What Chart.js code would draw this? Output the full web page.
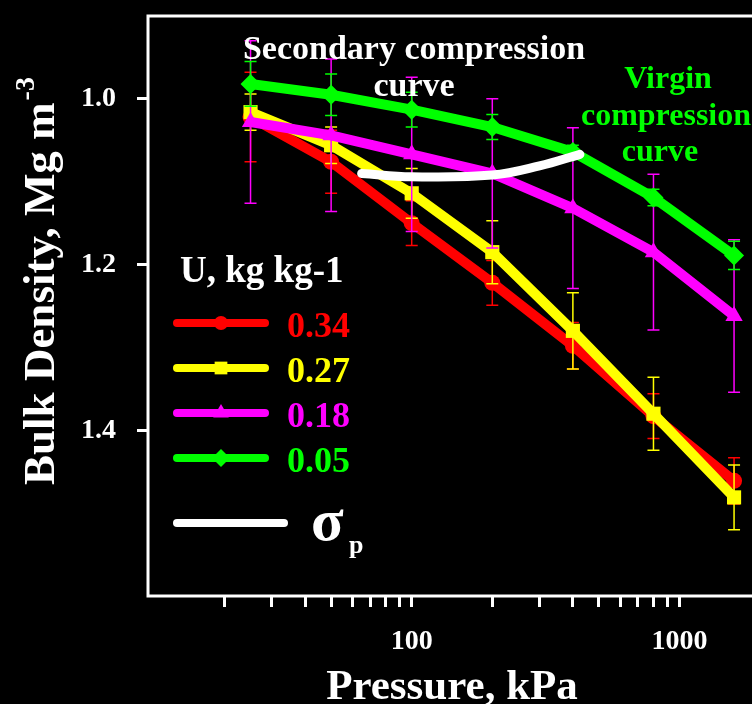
<!DOCTYPE html>
<html>
<head>
<meta charset="utf-8">
<script src="https://cdn.jsdelivr.net/npm/chart.js@4.4.1/dist/chart.umd.min.js"></script>
<style>
  html, body { margin: 0; padding: 0; background: #000; overflow: hidden; }
  #marco { width: 752px; height: 704px; overflow: hidden; }
</style>
</head>
<body>
<div id="marco"><canvas id="graficoDensidad" width="770" height="704"></canvas></div>
<script>
// Presión aplicada (kPa)
const presiones = [25, 50, 100, 200, 400, 800, 1600];
// Contenido de agua U, kg kg-1
const etiquetasU = ['0.34', '0.27', '0.18', '0.05'];
// Densidad aparente (Mg m-3)
const densidad034 = [1.022, 1.076, 1.150, 1.222, 1.298, 1.383, 1.461];
const densidad027 = [1.016, 1.056, 1.114, 1.185, 1.280, 1.380, 1.481];
const densidad018 = [1.028, 1.044, 1.067, 1.090, 1.132, 1.185, 1.262];
const densidad005 = [0.982, 0.995, 1.013, 1.034, 1.064, 1.119, 1.189];
// Barras de error (+/-)
const error034 = [0.054, 0.038, 0.027, 0.027, 0.028, 0.027, 0.028];
const error027 = [0.022, 0.022, 0.030, 0.038, 0.046, 0.044, 0.039];
const error018 = [0.098, 0.092, 0.093, 0.090, 0.097, 0.094, 0.092];
const error005 = [0.027, 0.025, 0.021, 0.015, 0.008, 0.010, 0.017];
// Curva de presión de preconsolidación (sigma p)
const presionSigma = [65, 100, 200, 300, 425];
const densidadSigma = [1.090, 1.094, 1.092, 1.081, 1.067];
// Marcas de los ejes
const marcasX = [20, 30, 40, 50, 60, 70, 80, 90, 100, 200, 300, 400, 500, 600, 700, 800, 900, 1000];
const marcasY = [1.0, 1.2, 1.4];

const colores = ['#ff0000', '#ffff00', '#ff00ff', '#00ff00'];
const estilos = ['circle', 'rect', 'triangle', 'rectRot'];
const densidades = [densidad034, densidad027, densidad018, densidad005];
const errores = [error034, error027, error018, error005];

const fuente = '"Liberation Serif", "Times New Roman", serif';

function puntos(xs, ys) {
    return xs.map((x, i) => ({ x: x, y: ys[i] }));
}

const datasets = etiquetasU.map((lab, i) => ({
    label: lab,
    data: puntos(presiones, densidades[i]),
    errores: errores[i],
    borderColor: colores[i],
    backgroundColor: colores[i],
    borderWidth: 10,
    pointStyle: estilos[i],
    pointRadius: i === 0 ? 8 : 10,
    pointBorderWidth: 0,
    tension: 0,
    order: 4 - i
}));

datasets.push({
    label: 'sigma p',
    data: puntos(presionSigma, densidadSigma),
    borderColor: '#ffffff',
    borderWidth: 9,
    borderCapStyle: 'round',
    pointRadius: 0,
    tension: 0.4,
    order: 0
});

// Barras de error dibujadas con las escalas del gráfico
const barrasError = {
    id: 'barrasError',
    afterDatasetDraw(chart, args) {
        const ds = chart.data.datasets[args.index];
        if (!ds.errores) return;
        const { ctx, scales: { x, y } } = chart;
        ctx.save();
        ctx.strokeStyle = ds.borderColor;
        ctx.lineWidth = 1.5;
        ds.data.forEach((p, i) => {
            const px = x.getPixelForValue(p.x);
            const arriba = y.getPixelForValue(p.y - ds.errores[i]);
            const abajo = y.getPixelForValue(p.y + ds.errores[i]);
            ctx.beginPath();
            ctx.moveTo(px, arriba); ctx.lineTo(px, abajo);
            ctx.moveTo(px - 6, arriba); ctx.lineTo(px + 6, arriba);
            ctx.moveTo(px - 6, abajo); ctx.lineTo(px + 6, abajo);
            ctx.stroke();
        });
        ctx.restore();
    }
};

// Marco blanco alrededor del área
const marcoBlanco = {
    id: 'marcoBlanco',
    beforeDatasetsDraw(chart) {
        const { ctx, chartArea: a } = chart;
        ctx.save();
        ctx.strokeStyle = '#ffffff';
        ctx.lineWidth = 3;
        ctx.strokeRect(a.left, a.top, a.right - a.left, a.bottom - a.top);
        ctx.restore();
    }
};

// Títulos, leyenda y textos
const textos = {
    id: 'textos',
    afterDraw(chart) {
        const ctx = chart.ctx;
        ctx.save();
        ctx.textBaseline = 'alphabetic';

        // título eje x
        ctx.fillStyle = '#ffffff';
        ctx.textAlign = 'center';
        ctx.font = 'bold 43px ' + fuente;
        ctx.fillText('Pressure, kPa', 452, 699);

        // título eje y con superíndice
        ctx.save();
        ctx.translate(54, 282);
        ctx.rotate(-Math.PI / 2);
        ctx.textAlign = 'left';
        ctx.font = 'bold 45px ' + fuente;
        const principal = 'Bulk Density, Mg m';
        const wp = ctx.measureText(principal).width;
        ctx.font = 'bold 28px ' + fuente;
        const ws = ctx.measureText('-3').width;
        const inicio = -(wp + ws) / 2;
        ctx.font = 'bold 45px ' + fuente;
        ctx.fillText(principal, inicio, 0);
        ctx.font = 'bold 28px ' + fuente;
        ctx.fillText('-3', inicio + wp + 2, -20);
        ctx.restore();

        // anotaciones
        ctx.textAlign = 'center';
        ctx.font = 'bold 34px ' + fuente;
        ctx.fillStyle = '#ffffff';
        ctx.fillText('Secondary compression', 414, 59);
        ctx.fillText('curve', 414, 96);
        ctx.font = 'bold 32px ' + fuente;
        ctx.fillStyle = '#00ff00';
        ctx.fillText('Virgin', 668, 88);
        ctx.fillText('compression', 666, 125);
        ctx.fillText('curve', 660, 161);

        // leyenda
        ctx.textAlign = 'left';
        ctx.fillStyle = '#ffffff';
        ctx.font = 'bold 37px ' + fuente;
        ctx.fillText('U, kg kg-1', 180, 282);
        etiquetasU.forEach((lab, i) => {
            const yy = 323 + i * 45;
            ctx.strokeStyle = colores[i];
            ctx.lineWidth = 8;
            ctx.lineCap = 'round';
            ctx.beginPath();
            ctx.moveTo(177, yy);
            ctx.lineTo(265, yy);
            ctx.stroke();
            ctx.fillStyle = colores[i];
            Chart.helpers.drawPoint(ctx, { pointStyle: estilos[i], radius: i === 0 ? 7 : 9, borderWidth: 0, rotation: 0 }, 221, yy);
            ctx.font = 'bold 36px ' + fuente;
            ctx.fillText(lab, 287, yy + 14);
        });
        ctx.strokeStyle = '#ffffff';
        ctx.lineWidth = 8;
        ctx.beginPath();
        ctx.moveTo(177, 523);
        ctx.lineTo(284, 523);
        ctx.stroke();
        ctx.fillStyle = '#ffffff';
        ctx.font = 'bold 60px ' + fuente;
        ctx.fillText('σ', 311, 540);
        ctx.font = 'bold 26px ' + fuente;
        ctx.fillText('p', 349, 553);
        ctx.restore();
    }
};

const ctx = document.getElementById('graficoDensidad').getContext('2d');

const miGrafico = new Chart(ctx, {
    type: 'line',
    data: { datasets: datasets },
    options: {
        responsive: false,
        animation: false,
        devicePixelRatio: 1,
        layout: { padding: { top: 16, right: 9, left: 0, bottom: 0 } },
        plugins: {
            legend: { display: false },
            tooltip: { enabled: false }
        },
        scales: {
            x: {
                type: 'logarithmic',
                min: 10.35,
                max: 2000,
                afterBuildTicks: (s) => { s.ticks = marcasX.map(v => ({ value: v })); },
                afterFit: (s) => { s.height = 108; s.paddingLeft = 0; s.paddingRight = 0; },
                grid: { drawOnChartArea: false, drawTicks: true, tickLength: 11, color: '#ffffff', lineWidth: 3 },
                border: { display: false },
                ticks: {
                    autoSkip: false,
                    maxRotation: 0,
                    padding: 18,
                    color: '#ffffff',
                    font: { family: fuente, size: 28, weight: 'bold' },
                    callback: (v) => (v === 100 || v === 1000) ? String(v) : ''
                }
            },
            y: {
                type: 'linear',
                reverse: true,
                min: 0.9,
                max: 1.6,
                afterBuildTicks: (s) => { s.ticks = marcasY.map(v => ({ value: v })); },
                afterFit: (s) => { s.width = 148; s.paddingTop = 0; s.paddingBottom = 0; },
                grid: { drawOnChartArea: false, drawTicks: true, tickLength: 11, color: '#ffffff', lineWidth: 3 },
                border: { display: false },
                ticks: {
                    padding: 21,
                    color: '#ffffff',
                    font: { family: fuente, size: 28, weight: 'bold' },
                    callback: (v) => v.toFixed(1)
                }
            }
        }
    },
    plugins: [marcoBlanco, barrasError, textos]
});
</script>
</body>
</html>
